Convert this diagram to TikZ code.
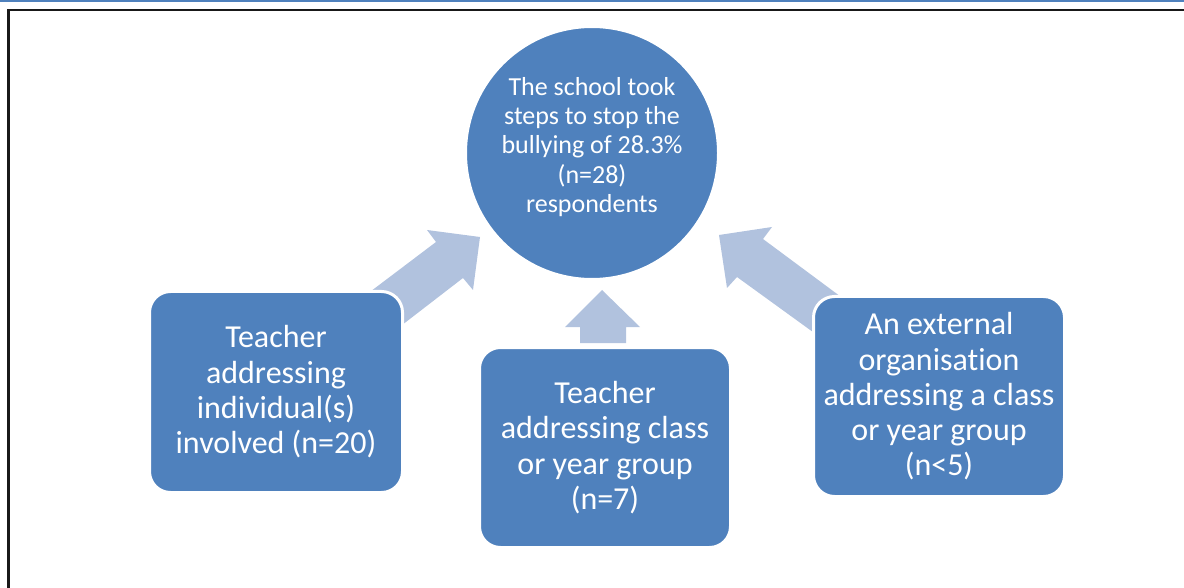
\documentclass[tikz,border=0pt]{standalone}
\usepackage{fontspec}
\setmainfont{Carlito}[Ligatures=NoCommon]
\definecolor{ofblue}{RGB}{79,129,189}
\definecolor{arrowblue}{RGB}{177,194,222}
\begin{document}
\begin{tikzpicture}[x=1pt,y=-1pt,
  box/.style={rectangle, fill=ofblue, draw=white, line width=3pt, rounded corners=21pt,
    text=white, align=center, font=\fontsize{32}{35.3}\selectfont, inner sep=0pt},
  hubstyle/.style={circle, fill=ofblue, draw=white, line width=2pt, minimum size=252pt, inner sep=0pt},
  hubtext/.style={text=white, align=center, font=\fontsize{26}{29.3}\selectfont, inner sep=0pt},
  blockarrow/.style={fill=arrowblue}]
\useasboundingbox (0,0) rectangle (1184,588);
\fill[ofblue] (0,0) rectangle (1184,2.5);
\draw[line width=2.2pt, black!90] (1184,10) -- (8.5,10) -- (8.5,588);

% block arrows (drawn under the boxes)
\fill[blockarrow] (350,307) -- (436,242) -- (427,230) -- (480,237) -- (473,290) -- (463,278) -- (380,342) -- cycle;
\fill[blockarrow] (602,290) -- (640,327) -- (626,327) -- (626,343) -- (580,343) -- (580,327) -- (565,327) -- cycle;
\fill[blockarrow] (719,235) -- (772,227) -- (763,239) -- (860,311) -- (835,348) -- (737,277) -- (727,288) -- cycle;

% hub
\node[hubstyle] (hub) at (592,153) {};
\node[hubtext] (hubt) at ([yshift=6pt]hub.center) {The school took\\steps to stop the\\bullying of 28.3\%\\(n=28)\\respondents};

% boxes
\node[box, minimum width=253pt, minimum height=201pt] (left) at (276,392)
  {Teacher\\addressing\\individual(s)\\involved (n=20)};
\node[box, minimum width=251pt, minimum height=200pt] (mid) at (605,447.5)
  {Teacher\\addressing class\\or year group\\(n=7)};
\node[box, minimum width=251pt, minimum height=200pt] (right) at (939,396.5)
  {An external\\organisation\\addressing a class\\or year group\\(n<5)};
\end{tikzpicture}
\end{document}
